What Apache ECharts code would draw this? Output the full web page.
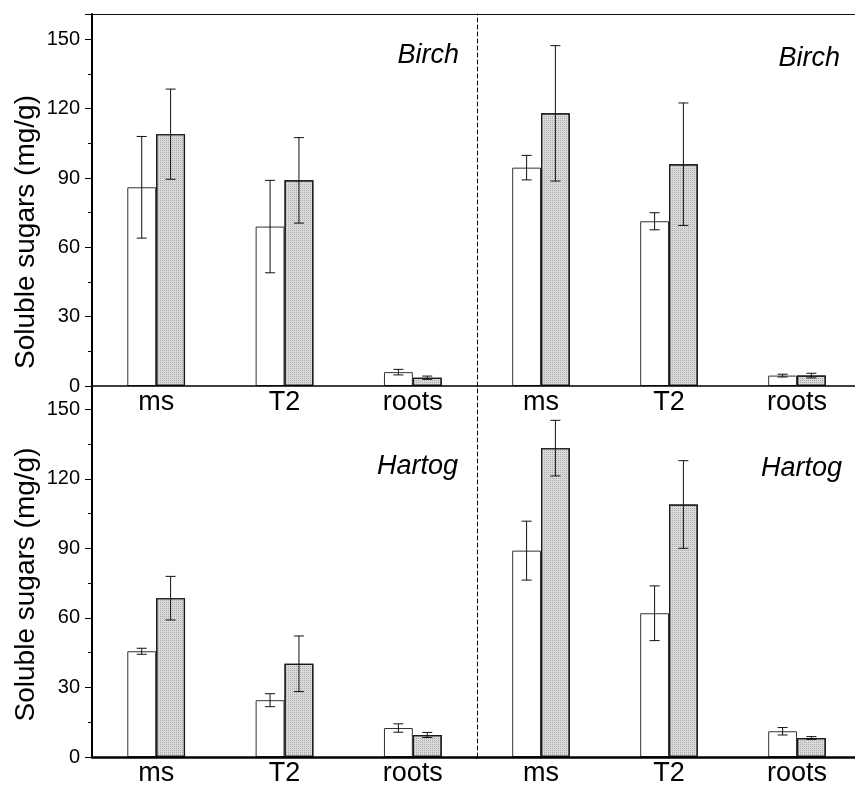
<!DOCTYPE html>
<html>
<head>
<meta charset="utf-8">
<script src="https://cdn.jsdelivr.net/npm/echarts@6/dist/echarts.min.js"></script>
<style>
  html, body { margin: 0; padding: 0; background: #fff; }
  #chart { width: 855px; height: 785px; }
</style>
</head>
<body>
<div id="chart"></div>
<script>
// Tissue categories on each panel's x axis
const categories = ['ms', 'T2', 'roots'];

// Birch, left panel: open and shaded bars with their error half-widths
const birchLeftOpen = [86, 69, 6];
const birchLeftOpenErr = [22, 20, 1.2];
const birchLeftShaded = [109, 89, 3.6];
const birchLeftShadedErr = [19.5, 18.5, 0.7];

// Birch, right panel
const birchRightOpen = [94.5, 71.3, 4.5];
const birchRightOpenErr = [5.3, 3.7, 0.6];
const birchRightShaded = [118, 96, 4.5];
const birchRightShadedErr = [29.3, 26.5, 1];

// Hartog, left panel
const hartogLeftOpen = [45.6, 24.5, 12.5];
const hartogLeftOpenErr = [1.3, 2.8, 1.8];
const hartogLeftShaded = [68.5, 40.2, 9.5];
const hartogLeftShadedErr = [9.4, 12, 1.1];

// Hartog, right panel
const hartogRightOpen = [89, 62, 11.1];
const hartogRightOpenErr = [12.7, 11.8, 1.6];
const hartogRightShaded = [133.2, 108.9, 8.2];
const hartogRightShadedErr = [12, 18.9, 0.6];

// Y tick values and panel names
const yTicks = [0, 30, 60, 90, 120, 150];
const panelNames = ['Birch', 'Birch', 'Hartog', 'Hartog'];
const yAxisTitle = 'Soluble sugars (mg/g)';

const panels = [
  { open: birchLeftOpen, openErr: birchLeftOpenErr, shaded: birchLeftShaded, shadedErr: birchLeftShadedErr },
  { open: birchRightOpen, openErr: birchRightOpenErr, shaded: birchRightShaded, shadedErr: birchRightShadedErr },
  { open: hartogLeftOpen, openErr: hartogLeftOpenErr, shaded: hartogLeftShaded, shadedErr: hartogLeftShadedErr },
  { open: hartogRightOpen, openErr: hartogRightOpenErr, shaded: hartogRightShaded, shadedErr: hartogRightShadedErr }
];

const FONT = '"Liberation Sans", Arial, Helvetica, sans-serif';
const BAR_GAP = '0%';
const CAT_GAP = '55%';

const grids = [
  { left: 92, top: 14, width: 385, height: 372 },
  { left: 477, top: 14, width: 384, height: 372 },
  { left: 92, top: 386, width: 385, height: 371 },
  { left: 477, top: 386, width: 384, height: 371 }
].map(g => Object.assign({ containLabel: false, outerBoundsMode: 'none' }, g));

const xAxes = grids.map((g, i) => ({
  gridIndex: i,
  type: 'category',
  data: categories,
  position: 'bottom',
  axisLine: { show: true, lineStyle: { color: '#000', width: i < 2 ? 1.5 : 2.5 } },
  axisTick: { show: false },
  axisLabel: { fontSize: 27, color: '#000', margin: 3, fontFamily: FONT },
  splitLine: { show: false },
  z: 5
}));
// thin frame along the top of the upper panels
[0, 1].forEach(i => xAxes.push({
  gridIndex: i,
  type: 'category',
  data: categories,
  position: 'top',
  axisLine: { show: true, lineStyle: { color: '#111', width: 1 } },
  axisTick: { show: false },
  axisLabel: { show: false },
  splitLine: { show: false }
}));

const yAxes = grids.map((g, i) => {
  const isLeft = i % 2 === 0;
  const ax = {
    gridIndex: i,
    type: 'value',
    min: yTicks[0],
    max: i < 2 ? 161 : 160,
    interval: yTicks[1] - yTicks[0],
    axisLine: {
      show: true,
      lineStyle: isLeft ? { color: '#000', width: 2 } : { color: '#000', width: 1, type: [4, 3] }
    },
    axisTick: { show: isLeft, length: 7, lineStyle: { color: '#000', width: 1 } },
    minorTick: { show: isLeft, splitNumber: 2, length: 4, lineStyle: { color: '#000', width: 1 } },
    axisLabel: {
      show: isLeft, fontSize: 20, color: '#000', margin: 12, fontFamily: FONT,
      showMaxLabel: false,
      formatter: v => (yTicks.indexOf(v) >= 0 ? String(v) : '')
    },
    splitLine: { show: false },
    minorSplitLine: { show: false },
    z: 6
  };
  if (isLeft) {
    ax.name = yAxisTitle;
    ax.nameLocation = 'middle';
    ax.nameGap = 52;
    ax.nameTextStyle = {
      fontSize: 28, color: '#000', fontFamily: FONT,
      padding: i < 2 ? [0, 64, 0, 0] : [0, 26, 0, 0]
    };
  }
  return ax;
});

function errorSeries(panelIdx, slot, values, errs) {
  return {
    type: 'custom',
    xAxisIndex: panelIdx,
    yAxisIndex: panelIdx,
    z: 10,
    silent: true,
    encode: { x: 0, y: 1 },
    data: values.map((v, k) => [k, v, errs[k]]),
    renderItem: function (params, api) {
      const cat = api.value(0);
      const val = api.value(1);
      const err = api.value(2);
      const layout = api.barLayout({ count: 2, barGap: BAR_GAP, barCategoryGap: CAT_GAP });
      const base = api.coord([cat, val]);
      const x = base[0] + layout[slot].offsetCenter;
      const yHi = api.coord([cat, val + err])[1];
      const yLo = api.coord([cat, val - err])[1];
      const cap = 5;
      const style = { stroke: '#111', lineWidth: 1 };
      return {
        type: 'group',
        children: [
          { type: 'line', shape: { x1: x, y1: yHi, x2: x, y2: yLo }, style: style },
          { type: 'line', shape: { x1: x - cap, y1: yHi, x2: x + cap, y2: yHi }, style: style },
          { type: 'line', shape: { x1: x - cap, y1: yLo, x2: x + cap, y2: yLo }, style: style }
        ]
      };
    }
  };
}

const series = [];
panels.forEach((p, i) => {
  series.push({
    type: 'bar',
    xAxisIndex: i,
    yAxisIndex: i,
    data: p.open,
    barGap: BAR_GAP,
    barCategoryGap: CAT_GAP,
    itemStyle: { color: '#ffffff', borderColor: '#333', borderWidth: 1 },
    silent: true
  });
  series.push({
    type: 'bar',
    xAxisIndex: i,
    yAxisIndex: i,
    data: p.shaded,
    barGap: BAR_GAP,
    barCategoryGap: CAT_GAP,
    itemStyle: {
      color: '#dadada', borderColor: '#1a1a1a', borderWidth: 1.2,
      decal: {
        symbol: 'rect', symbolSize: 1, color: 'rgba(110,110,110,0.45)',
        dashArrayX: [1, 1], dashArrayY: [1, 1], rotation: 0
      }
    },
    silent: true
  });
  series.push(errorSeries(i, 0, p.open, p.openErr));
  series.push(errorSeries(i, 1, p.shaded, p.shadedErr));
});

const titlePos = [
  { right: 396, top: 42 },
  { right: 15, top: 45 },
  { right: 397, top: 453 },
  { right: 13, top: 455 }
];
const titles = panelNames.map((name, i) => Object.assign({
  text: name,
  padding: 0,
  textStyle: { fontSize: 27, fontStyle: 'italic', fontWeight: 'normal', color: '#000', fontFamily: FONT }
}, titlePos[i]));

const chart = echarts.init(document.getElementById('chart'), null, { renderer: 'canvas' });
chart.setOption({
  animation: false,
  backgroundColor: '#fff',
  aria: { decal: { show: false } },
  title: titles,
  grid: grids,
  xAxis: xAxes,
  yAxis: yAxes,
  series: series
});
</script>
</body>
</html>
